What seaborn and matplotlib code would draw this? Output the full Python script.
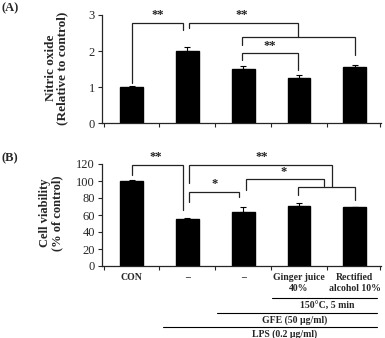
import numpy as np
import pandas as pd
import matplotlib
matplotlib.use("Agg")
import matplotlib.pyplot as plt
import matplotlib.transforms as mtransforms
import seaborn as sns

# ---------------- data ----------------
groups = ["CON", "LPS", "LPS+GFE", "LPS+GFE+GJ", "LPS+GFE+RA"]
tick_labels = ["CON", "\u2013", "\u2013", "Ginger juice\n40%", "Rectified\nalcohol 10%"]

no_values = [1.00, 2.01, 1.50, 1.25, 1.55]
no_errors = [0.04, 0.10, 0.08, 0.09, 0.07]

cv_values = [100.0, 55.5, 64.0, 71.0, 69.0]
cv_errors = [1.5, 1.0, 6.0, 3.0, 1.0]

# brackets: (x_left, x_right, y_top, y_left_end, y_right_end, label, label_x, label_y)
brackets_a = [
    (0.00, 0.92, 2.78, 1.10, 2.58, "**", 0.46, 2.82),
    (1.03, 2.98, 2.78, 2.63, 2.38, "**", 1.98, 2.82),
    (1.98, 4.00, 2.38, 2.16, 1.88, "", 0, 0),
    (1.98, 2.98, 1.94, 1.75, 1.47, "**", 2.48, 1.98),
]
brackets_b = [
    (0.00, 0.92, 119, 107, 66, "**", 0.44, 121),
    (1.03, 3.59, 119, 98, 93, "**", 2.34, 121),
    (2.98, 4.00, 93, 83, 78, "", 0, 0),
    (2.05, 3.44, 102, 89, 94, "*", 2.73, 104),
    (1.03, 1.92, 87, 75, 81, "*", 1.49, 89),
]

# condition rows under panel B: (text, x_start, x_end, text_x)
conditions = [
    ("150\u00b0C, 5 min", 2.52, 4.40, 3.51),
    ("GFE (50 \u03bcg/ml)", 1.53, 4.40, 2.93),
    ("LPS (0.2 \u03bcg/ml)", 0.56, 4.40, 2.75),
]

# ---------------- style ----------------
sns.set_theme(style="ticks")
plt.rcParams["font.family"] = ["Liberation Serif", "DejaVu Serif"]
plt.rcParams["axes.linewidth"] = 0.9

W, H = 385, 338
fig = plt.figure(figsize=(W / 100, H / 100), dpi=100)

def axes_px(left, right, top, bottom):
    return fig.add_axes([left / W, 1 - bottom / H, (right - left) / W, (bottom - top) / H])

ax_a = axes_px(102, 381, 15, 123)
ax_b = axes_px(102, 381, 164, 266)

df_a = pd.DataFrame({"group": groups, "value": no_values})
df_b = pd.DataFrame({"group": groups, "value": cv_values})

for ax, df, errs in [(ax_a, df_a, no_errors), (ax_b, df_b, cv_errors)]:
    sns.barplot(data=df, x="group", y="value", color="black", width=0.41,
                saturation=1, errorbar=None, ax=ax, edgecolor="black")
    pos = np.arange(len(df))
    ax.errorbar(pos, df["value"], yerr=[np.zeros(len(errs)), errs], fmt="none",
                ecolor="black", elinewidth=0.8, capsize=2.5, capthick=0.8)
    ax.set_xlim(-0.53, 4.47)
    ax.set_xlabel("")
    ax.set_ylabel("")
    sns.despine(ax=ax)
    ax.set_xticks([-0.5, 0.5, 1.5, 2.5, 3.5, 4.45], minor=True)
    ax.tick_params(axis="x", which="minor", length=3, width=0.8, direction="out")
    ax.tick_params(axis="x", which="major", length=0)
    ax.tick_params(axis="y", length=3, width=0.8, labelsize=9, pad=2)

ax_a.set_ylim(0, 3)
ax_a.set_yticks([0, 1, 2, 3])
ax_a.set_xticks(range(len(groups)))
ax_a.set_xticklabels([""] * len(groups))

ax_b.set_ylim(0, 120)
ax_b.set_yticks(range(0, 121, 20))
ax_b.set_xticks(range(len(groups)))
ax_b.set_xticklabels(tick_labels, fontsize=7, fontweight="bold", linespacing=1.3)
ax_b.tick_params(axis="x", which="major", pad=5)

def draw_brackets(ax, brs, fs):
    for x1, x2, yt, y1, y2, lab, lx, ly in brs:
        ax.plot([x1, x1, x2, x2], [y1, yt, yt, y2], color="#222222", lw=0.9,
                clip_on=False, solid_joinstyle="miter")
        if lab:
            ax.text(lx, ly, lab, ha="center", va="bottom", fontsize=fs,
                    fontweight="bold", color="#222222", clip_on=False)

draw_brackets(ax_a, brackets_a, 9)
draw_brackets(ax_b, brackets_b, 9)

# condition rows
trans = mtransforms.blended_transform_factory(ax_b.transData, ax_b.transAxes)
line_y = [-0.314, -0.461, -0.598]
text_y = [-0.382, -0.529, -0.667]
for (txt, xs, xe, tx), ly, ty in zip(conditions, line_y, text_y):
    ax_b.plot([xs, xe], [ly, ly], color="black", lw=0.8, transform=trans, clip_on=False)
    ax_b.text(tx, ty, txt, ha="center", va="center", fontsize=7, fontweight="bold",
              transform=trans)

# y labels and panel letters
fig.text(56.5 / W, 1 - 68 / H, "Nitric oxide\n(Relative to control)", rotation=90,
         ha="center", va="center", fontsize=9.5, fontweight="bold", linespacing=1.0,
         multialignment="center")
fig.text(51 / W, 1 - 213 / H, "Cell viability\n(% of control)", rotation=90,
         ha="center", va="center", fontsize=9, fontweight="bold", linespacing=1.0,
         multialignment="center")
fig.text(2 / W, 1 - 8 / H, "(A)", ha="left", va="center", fontsize=9, fontweight="bold")
fig.text(2 / W, 1 - 158 / H, "(B)", ha="left", va="center", fontsize=9, fontweight="bold")

fig.savefig("out.png", dpi=100, facecolor="white")
